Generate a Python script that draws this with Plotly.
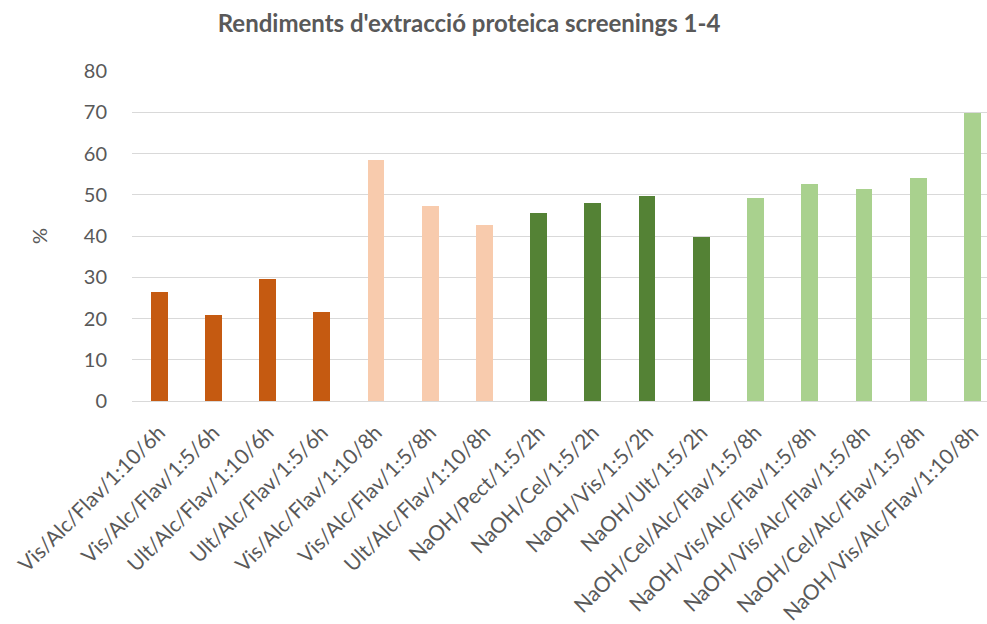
import plotly.graph_objects as go

# Protein extraction yields (%) per condition, screenings 1-4
conditions = [
    "Vis/Alc/Flav/1:10/6h", "Vis/Alc/Flav/1:5/6h", "Ult/Alc/Flav/1:10/6h", "Ult/Alc/Flav/1:5/6h",
    "Vis/Alc/Flav/1:10/8h", "Vis/Alc/Flav/1:5/8h", "Ult/Alc/Flav/1:10/8h",
    "NaOH/Pect/1:5/2h", "NaOH/Cel/1:5/2h", "NaOH/Vis/1:5/2h", "NaOH/Ult/1:5/2h",
    "NaOH/Cel/Alc/Flav/1:5/8h", "NaOH/Vis/Alc/Flav/1:5/8h", "NaOH/Vis/Alc/Flav/1:5/8h",
    "NaOH/Cel/Alc/Flav/1:5/8h", "NaOH/Vis/Alc/Flav/1:10/8h",
]
yields = [26.4, 20.9, 29.6, 21.6, 58.5, 47.2, 42.6, 45.5, 47.9, 49.8, 39.7, 49.1, 52.5, 51.3, 54.1, 69.8]
screening = [1, 1, 1, 1, 2, 2, 2, 3, 3, 3, 3, 4, 4, 4, 4, 4]
y_ticks = [0, 10, 20, 30, 40, 50, 60, 70, 80]

palette = {1: "#C55A11", 2: "#F8CBAD", 3: "#548235", 4: "#A9D18E"}
bar_colors = [palette[s] for s in screening]

W, H = 987, 624
left, right, top, bottom = 132, 0, 71, 221
TXT = "#595959"

fig = go.Figure(
    go.Bar(
        x=list(range(len(conditions))),
        y=yields,
        marker=dict(color=bar_colors, line=dict(width=0)),
        width=0.31,
    )
)

fig.update_layout(
    width=W, height=H,
    margin=dict(l=left, r=right, t=top, b=bottom, pad=0),
    paper_bgcolor="white", plot_bgcolor="white",
    showlegend=False,
    font=dict(family="Lato", color=TXT, size=20),
    title=dict(
        text="<b>Rendiments d'extracció proteica screenings 1-4</b>",
        x=469 / W, xanchor="center", xref="container",
        y=1 - 24 / H, yanchor="middle", yref="container",
        font=dict(family="Lato", size=24, color=TXT),
    ),
    bargap=0,
)

fig.update_xaxes(
    range=[-0.5, 15.27],
    tickmode="array",
    tickvals=list(range(len(conditions))),
    ticktext=conditions,
    tickangle=-45,
    showgrid=False, zeroline=False, showline=False,
    ticks="outside", ticklen=10, tickcolor="rgba(0,0,0,0)",
    tickfont=dict(family="Lato", size=21, color=TXT),
)

fig.update_yaxes(
    range=[0, 80],
    tickvals=y_ticks,
    showgrid=True, gridcolor="#D9D9D9", gridwidth=1,
    zeroline=True, zerolinecolor="#D9D9D9", zerolinewidth=1,
    showline=False, ticks="outside", ticklen=20, tickcolor="rgba(0,0,0,0)",
    tickfont=dict(family="Lato", size=20, color=TXT),
    title=dict(text="%", font=dict(family="Lato", size=20, color=TXT), standoff=30),
)

fig.write_html("out.html")
